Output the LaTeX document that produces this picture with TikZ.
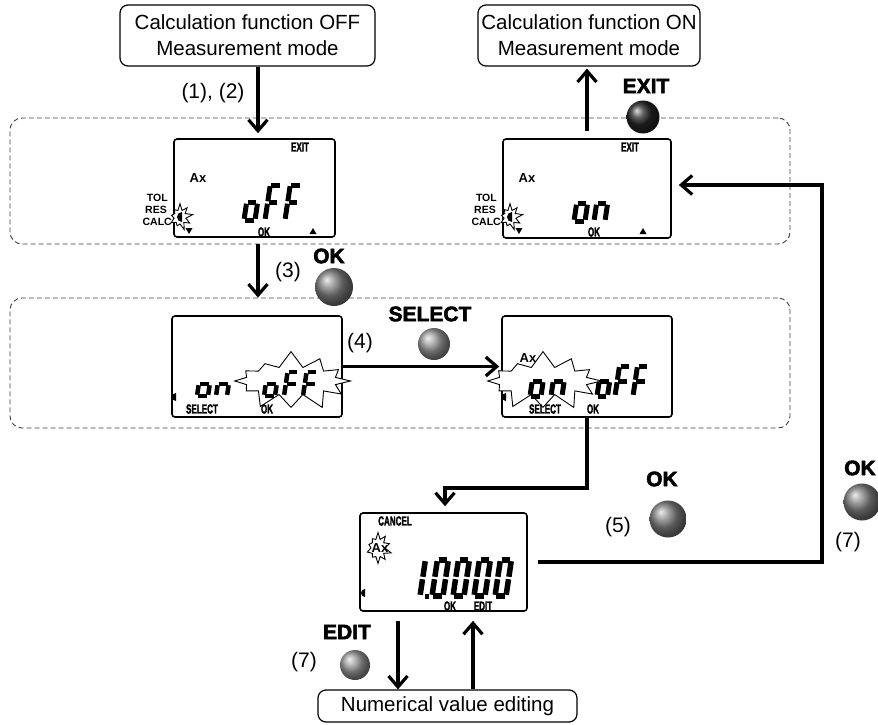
\documentclass[tikz,border=0pt]{standalone}
\usepackage{fontspec}
\setmainfont{Liberation Sans}
\newfontfamily\heavyfont[FakeBold=2.5]{Liberation Sans}
\usetikzlibrary{arrows.meta,shapes.symbols}

% seven-segment drawing
\newcommand\sega{\draw (1.2,\H)--(\W-1.2,\H);}
\newcommand\segb{\draw (\W,\H-1.2)--(\W,\H/2+1.2);}
\newcommand\segc{\draw (\W,\H/2-1.2)--(\W,1.2);}
\newcommand\segd{\draw (1.2,0)--(\W-1.2,0);}
\newcommand\sege{\draw (0,1.2)--(0,\H/2-1.2);}
\newcommand\segf{\draw (0,\H/2+1.2)--(0,\H-1.2);}
\newcommand\segg{\draw (1.2,\H/2)--(\W-1.2,\H/2);}
\newcommand\sevdigit[6]{%
  \begin{scope}[shift={(#1,#2)},x={(1pt,0pt)},y={(0.15pt,1pt)},line width=#5pt]
  \def\W{#3}\def\H{#4}%
  \foreach \s in {#6}{\csname seg\s\endcsname}%
  \end{scope}}
\newcommand\halfdisc[3]{\fill (#1,#2+#3) arc[start angle=270,end angle=90,radius=#3pt] -- cycle;}
\newcommand\tridown[2]{\fill (#1-3.5,#2-3) -- (#1+3.5,#2-3) -- (#1,#2+3) -- cycle;}
\newcommand\triup[2]{\fill (#1-3.5,#2+3) -- (#1+3.5,#2+3) -- (#1,#2-3) -- cycle;}
\newcommand\lcdl[1]{\scalebox{0.62}[1]{\heavyfont\bfseries\fontsize{13}{13}\selectfont #1}}

\tikzset{
  arr/.style={line width=3.2pt, -{Straight Barb[length=11pt,width=19pt]}},
  tbox/.style={draw, rounded corners=8pt, line width=1.2pt, align=center,
    font=\fontsize{20.5}{26}\selectfont, inner sep=0pt},
  region/.style={draw=black!75, dash pattern=on 5pt off 3pt, rounded corners=12pt, line width=0.9pt},
  lcd/.style={draw, rounded corners=3pt, line width=1.6pt},
  burst/.style={starburst, draw, fill=white, line width=0.9pt, inner sep=0pt, random starburst=7},
  btn/.style={circle, shading=ball, inner sep=0pt},
  btnlbl/.style={font=\heavyfont\bfseries\fontsize{21}{21}\selectfont, inner sep=0pt},
  lbl/.style={font=\fontsize{21}{21}\selectfont, inner sep=0pt},
  ax/.style={font=\bfseries\fontsize{13}{13}\selectfont, inner sep=0pt},
  side/.style={font=\bfseries\fontsize{10.5}{10.5}\selectfont, inner sep=0pt, anchor=east},
  lt/.style={inner sep=0pt}
}

\begin{document}
\begin{tikzpicture}[x=1pt,y=-1pt]
\useasboundingbox (0,0) rectangle (878,725);

% dashed regions
\node[region, minimum width=780pt, minimum height=126pt] (r1) at (400,181) {};
\node[region, minimum width=780pt, minimum height=130pt] (r2) at (400,363) {};

% text boxes
\node[tbox, minimum width=255pt, minimum height=61pt] (t1) at (247.5,35.5) {Calculation function OFF\\Measurement mode};
\node[tbox, minimum width=222pt, minimum height=61pt] (t2) at (589,35.5) {Calculation function ON\\Measurement mode};
\node[tbox, minimum width=259pt, minimum height=32pt] (b) at (447.5,706) {Numerical value editing};

% LCDs
\node[lcd, minimum width=161pt, minimum height=98pt] (l1) at (254.5,188) {};
\node[lcd, minimum width=168pt, minimum height=99pt] (l2) at (587,188.5) {};
\node[lcd, minimum width=170pt, minimum height=101pt] (l3) at (257,366.5) {};
\node[lcd, minimum width=170pt, minimum height=101pt] (l4) at (587,366.5) {};
\node[lcd, minimum width=167pt, minimum height=98pt] (l5) at (443.5,562) {};

% ---- LCD 1
\node[burst, minimum width=26pt, minimum height=28pt, starburst points=9, starburst point height=7pt] (s1) at (180,217) {};
\halfdisc{182}{217}{5}
\node[side] (tol1) at (168,198) {TOL};
\node[side] (res1) at (167,210) {RES};
\node[side] (calc1) at (172,222) {CALC};
\node[ax] (ax1) at (198,178) {Ax};
\node[lt] (ex1) at (300,147) {\lcdl{EXIT}};
\node[lt] (ok1) at (264,232) {\lcdl{OK}};
\tridown{189}{231}
\triup{313}{231}
\sevdigit{244}{220}{11}{35}{5}{c,d,e,g}
\sevdigit{265}{220}{11}{35}{5}{a,e,f,g}
\sevdigit{285}{220}{11}{35}{5}{a,e,f,g}

% ---- LCD 2
\node[burst, minimum width=26pt, minimum height=28pt, starburst points=9, starburst point height=7pt] (s2) at (510,217) {};
\halfdisc{512}{217}{5}
\node[side] (tol2) at (497,198) {TOL};
\node[side] (res2) at (496,210) {RES};
\node[side] (calc2) at (501,222) {CALC};
\node[ax] (ax2) at (527,178) {Ax};
\node[lt] (ex2) at (630,147) {\lcdl{EXIT}};
\node[lt] (ok2) at (594,232) {\lcdl{OK}};
\tridown{519}{231}
\triup{643}{231}
\sevdigit{574}{221}{11}{35}{5}{c,d,e,g}
\sevdigit{594}{221}{11}{35}{5}{c,e,g}

% ---- LCD 3
\node[burst, minimum width=126pt, minimum height=62pt, starburst points=12, starburst point height=17pt] (s3) at (291,381) {};
\halfdisc{176}{397}{4}
\node[lt] (sel3) at (202,409) {\lcdl{SELECT}};
\node[lt] (ok3) at (267,409) {\lcdl{OK}};
\sevdigit{197}{396}{11}{24}{4.5}{c,d,e,g}
\sevdigit{216}{396}{11}{24}{4.5}{c,e,g}
\sevdigit{264}{396}{11}{24}{4.5}{c,d,e,g}
\sevdigit{284}{396}{11}{24}{4.5}{a,e,f,g}
\sevdigit{303}{396}{11}{24}{4.5}{a,e,f,g}

% ---- LCD 4
\node[burst, minimum width=124pt, minimum height=62pt, starburst points=12, starburst point height=17pt] (s4) at (543,381) {};
\halfdisc{506}{397}{4}
\node[ax] (ax4) at (528,358) {Ax};
\node[lt] (sel4) at (545,409) {\lcdl{SELECT}};
\node[lt] (ok4) at (593,409) {\lcdl{OK}};
\sevdigit{530}{396}{11}{30}{5}{c,d,e,g}
\sevdigit{551}{396}{11}{30}{5}{c,e,g}
\sevdigit{597}{396}{10.5}{30}{5}{c,d,e,g}
\sevdigit{615}{396}{10.5}{30}{5}{a,e,f,g}
\sevdigit{633}{396}{10.5}{30}{5}{a,e,f,g}

% ---- LCD 5
\node[burst, minimum width=28pt, minimum height=32pt, starburst points=10, starburst point height=7pt] (s5) at (378,548) {};
\node[ax] (ax5) at (380,548) {Ax};
\halfdisc{365}{593}{4}
\node[lt] (can5) at (395,521) {\lcdl{CANCEL}};
\node[lt] (ok5) at (450,606) {\lcdl{OK}};
\node[lt] (ed5) at (483,606) {\lcdl{EDIT}};
\sevdigit{420}{596}{0}{36}{5.5}{b,c}
\fill (424.5,594) rectangle (428.5,598.5);
\sevdigit{432}{596}{11}{36}{5.5}{a,b,c,d,e,f}
\sevdigit{453}{596}{11}{36}{5.5}{a,b,c,d,e,f}
\sevdigit{474}{596}{11}{36}{5.5}{a,b,c,d,e,f}
\sevdigit{495}{596}{11}{36}{5.5}{a,b,c,d,e,f}

% ---- buttons and labels
\node[btnlbl] (lexit) at (646,86) {EXIT};
\node[btn, ball color=black!85, minimum size=33pt] (bexit) at (643,117) {};
\node[btnlbl] (lok3) at (329,256) {OK};
\node[btn, ball color=black!50, minimum size=38pt] (bok3) at (334,287) {};
\node[btnlbl] (lsel) at (430,314) {SELECT};
\node[btn, ball color=black!40, minimum size=32pt] (bsel) at (434,344) {};
\node[btnlbl] (lok5) at (662,479) {OK};
\node[btn, ball color=black!50, minimum size=37pt] (bok5) at (668,519) {};
\node[btnlbl] (lok7) at (860,468) {OK};
\node[btn, ball color=black!50, minimum size=37pt] (bok7) at (862,502) {};
\node[btnlbl] (ledit) at (347,632) {EDIT};
\node[btn, ball color=black!40, minimum size=30pt] (bedit) at (355,665) {};

% step labels
\node[lbl] (n12) at (213,93) {(1), (2)};
\node[lbl] (n3) at (288,272) {(3)};
\node[lbl] (n4) at (360,343) {(4)};
\node[lbl] (n5) at (618,527) {(5)};
\node[lbl] (n7a) at (848,542) {(7)};
\node[lbl] (n7b) at (304,662) {(7)};

% ---- connectors
\coordinate (xa) at (258,0);
\coordinate (c5) at (445,488);
\coordinate (c7) at (822,185);
\coordinate (xd) at (398,0);
\coordinate (xu) at (473,0);
\draw[arr] (t1.south -| xa) -- ([yshift=5pt]l1.north -| xa);
\draw[arr] ([yshift=7pt]l2.north) -- ([yshift=-2pt]l2.north |- t2.south);
\draw[arr] (r1.south -| xa) -- (r2.north -| xa);
\draw[arr] (l3.east) -- ([xshift=-2pt]l4.west);
\draw[arr] (l4.south) |- (c5) -- ([yshift=6pt]l5.north -| c5);
\draw[arr] ([xshift=10pt]l5.east) -| (c7) -- ([xshift=7pt]l2.east |- c7);
\draw[arr] ([yshift=-9pt]l5.south -| xd) -- (b.north -| xd);
\draw[arr] (b.north -| xu) -- ([yshift=-9pt]l5.south -| xu);
\end{tikzpicture}
\end{document}
